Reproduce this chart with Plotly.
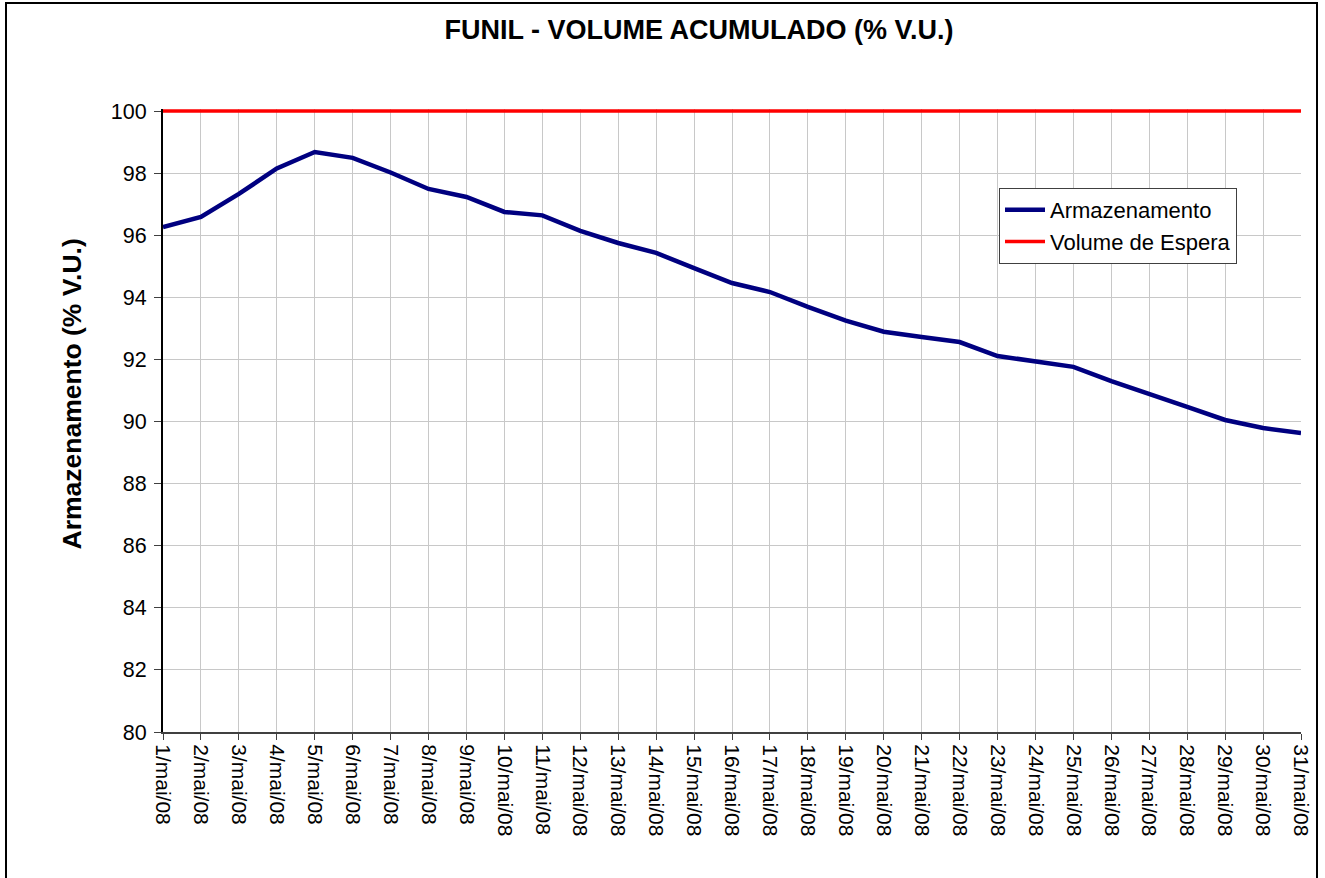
import plotly.graph_objects as go

dias = [f"{d}/mai/08" for d in range(1, 32)]
armazenamento = [96.26, 96.59, 97.33, 98.15, 98.68, 98.49, 98.02, 97.49, 97.23, 96.75,
                 96.64, 96.14, 95.75, 95.43, 94.94, 94.46, 94.17, 93.69, 93.25, 92.89,
                 92.72, 92.56, 92.11, 91.92, 91.76, 91.30, 90.90, 90.47, 90.05, 89.79, 89.63]
volume_espera = [100.0] * 31

titulo = "FUNIL - VOLUME ACUMULADO (% V.U.)"
titulo_y = "Armazenamento (% V.U.)"

fig = go.Figure()
fig.add_trace(go.Scatter(x=dias, y=armazenamento, mode="lines", name="Armazenamento",
                         line=dict(color="#000080", width=4.5)))
fig.add_trace(go.Scatter(x=dias, y=volume_espera, mode="lines", name="Volume de Espera",
                         line=dict(color="#ff0000", width=3.5)))

W, H = 1325, 878
L, R, T, B = 163, 24, 109, 146
pw, ph = W - L - R, H - T - B

def px(xp):
    return (xp - L) / pw

def py(yp):
    return (H - B - yp) / ph

fig.update_layout(
    width=W, height=H,
    margin=dict(l=L, r=R, t=T, b=B, autoexpand=False),
    paper_bgcolor="white", plot_bgcolor="white",
    font=dict(family="Arial, Liberation Sans, sans-serif", color="black", size=20),
    title=dict(text=f"<b>{titulo}</b>", xref="container", yref="container",
               x=699 / W, y=1 - 30 / H, xanchor="center", yanchor="middle",
               font=dict(size=27, color="black")),
    showlegend=True,
    legend=dict(x=px(999), y=py(188), xanchor="left", yanchor="top",
                bgcolor="white", bordercolor="#404040", borderwidth=1,
                font=dict(size=22), itemwidth=40, tracegroupgap=0),
    xaxis=dict(type="category", range=[0, 30], tickangle=90,
               showgrid=True, gridcolor="#c8c8c8", gridwidth=1,
               showline=True, linecolor="#404040", linewidth=2,
               ticks="outside", ticklen=6, tickcolor="#404040",
               tickfont=dict(size=21), zeroline=False),
    yaxis=dict(range=[80, 100.065], tick0=80, dtick=2,
               showgrid=True, gridcolor="#c8c8c8", gridwidth=1,
               showline=True, linecolor="black", linewidth=2,
               ticks="outside", ticklen=7, tickcolor="#404040",
               ticklabelstandoff=3,
               tickfont=dict(size=21.5), zeroline=False),
    annotations=[dict(text=f"<b>{titulo_y}</b>", textangle=-90, xref="paper", yref="paper",
                      x=px(71), y=py(394.5), xanchor="center", yanchor="middle",
                      showarrow=False, font=dict(size=26.5, color="black"))],
    shapes=[dict(type="rect", xref="paper", yref="paper",
                 x0=px(6), x1=px(1317), y0=py(885), y1=py(3),
                 line=dict(color="black", width=2), layer="below")],
)

fig.write_html("out.html", config={"displayModeBar": False},
               post_script="document.body.style.margin='0';document.body.style.overflow='hidden';")
